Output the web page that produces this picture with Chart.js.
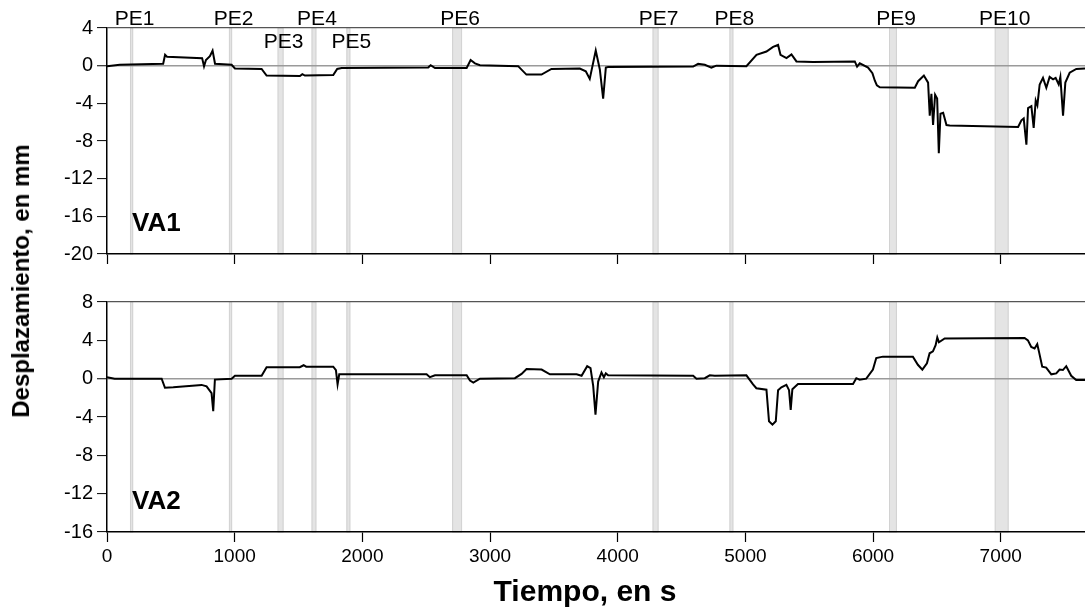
<!DOCTYPE html>
<html lang="es">
<head>
<meta charset="utf-8">
<title>Desplazamiento VA1 / VA2</title>
<script src="https://cdn.jsdelivr.net/npm/chart.js@4.4.1/dist/chart.umd.min.js"></script>
<style>
  body { margin: 0; background: #fff; }
  #wrap { position: relative; width: 1085px; height: 614px; overflow: hidden; font-family: Arial, "Liberation Sans", sans-serif; }
  #graficoVA1 { position: absolute; left: 0; top: 0; }
  #graficoVA2 { position: absolute; left: 0; top: 270px; }
  .tituloY { position: absolute; left: 21px; top: 281px; transform: translate(-50%, -50%) rotate(-90deg); font-weight: bold; font-size: 24px; white-space: nowrap; }
  .tituloX { position: absolute; left: 585px; top: 591px; transform: translate(-50%, -50%); font-weight: bold; font-size: 30px; white-space: nowrap; }
</style>
</head>
<body>
<div id="wrap">
  <canvas id="graficoVA1" width="1085" height="270"></canvas>
  <canvas id="graficoVA2" width="1085" height="344"></canvas>
  <div class="tituloY">Desplazamiento, en mm</div>
  <div class="tituloX">Tiempo, en s</div>
</div>
<script>
// Periodos de ensayo (franjas grises), en s
const peEtiquetas = ['PE1', 'PE2', 'PE3', 'PE4', 'PE5', 'PE6', 'PE7', 'PE8', 'PE9', 'PE10'];
const peInicio = [180, 955, 1336, 1602, 1875, 2703, 4273, 4875, 6125, 6953];
const peFin    = [205, 980, 1383, 1640, 1906, 2781, 4320, 4906, 6187, 7062];

// Marcas del eje de tiempo
const ticksTiempo = [0, 1000, 2000, 3000, 4000, 5000, 6000, 7000];
const tiempoMax = 7660;

// VA1
const tiempoVA1 = [0, 100, 440, 455, 470, 745, 760, 775, 806, 827, 846, 976, 1002, 1211, 1250, 1511, 1530, 1550, 1772, 1803, 1838,
  2516, 2535, 2569, 2817, 2848, 2882, 2921, 3220, 3285, 3403, 3481, 3703, 3750, 3781, 3828, 3860, 3886, 3907, 3925,
  4591, 4630, 4682, 4734, 4773, 5008, 5087, 5165, 5217, 5256, 5275, 5322, 5361, 5400, 5530, 5857, 5875, 5896, 5961,
  5995, 6014, 6030, 6053, 6327, 6353, 6398, 6431, 6444, 6457, 6470, 6486, 6502, 6515, 6528, 6549, 6575, 6600,
  7136, 7162, 7180, 7201, 7214, 7240, 7258, 7274, 7287, 7305, 7331, 7357, 7383, 7410, 7430, 7454, 7467, 7488, 7506,
  7540, 7592, 7660];
const despVA1 = [-0.05, 0.1, 0.2, 1.15, 0.95, 0.8, -0.07, 0.6, 1.0, 1.6, 0.2, 0.1, -0.3, -0.35, -1.05, -1.1, -0.9, -1.05, -1.0, -0.35, -0.25,
  -0.2, 0.05, -0.25, -0.25, 0.6, 0.25, 0.05, -0.05, -0.95, -0.95, -0.35, -0.3, -0.6, -1.4, 1.6, -0.4, -3.5, -0.2, -0.15,
  -0.1, 0.2, 0.1, -0.2, 0, -0.05, 1.15, 1.5, 2.0, 2.2, 1.15, 0.8, 1.2, 0.45, 0.4, 0.45, -0.1, 0.25, -0.2,
  -0.8, -1.6, -2.1, -2.3, -2.35, -1.65, -1.05, -1.8, -5.3, -3.0, -6.3, -3.1, -3.5, -9.3, -5.1, -5.0, -6.3, -6.35,
  -6.5, -5.8, -5.6, -8.4, -4.5, -4.3, -6.6, -3.7, -4.2, -2.0, -1.3, -2.35, -1.2, -1.45, -1.3, -2.0, -1.2, -5.3, -1.8,
  -0.75, -0.35, -0.3];

// VA2
const tiempoVA2 = [0, 60, 428, 454, 519, 741, 780, 819, 832, 845, 976, 1002, 1211, 1250, 1510, 1540, 1560, 1772, 1793, 1806, 1819,
  2503, 2529, 2569, 2817, 2843, 2869, 2921, 3195, 3247, 3286, 3404, 3469, 3678, 3717, 3761, 3787, 3808, 3826, 3847,
  3873, 3892, 3907, 3925, 4591, 4617, 4682, 4721, 4760, 5008, 5060, 5086, 5165, 5185, 5212, 5238, 5256, 5282, 5321,
  5342, 5355, 5368, 5412, 5843, 5869, 5895, 5947, 5999, 6025, 6077, 6312, 6351, 6386, 6422, 6443, 6469, 6490, 6503,
  6516, 6561, 7187, 7213, 7239, 7265, 7286, 7299, 7325, 7356, 7396, 7435, 7461, 7487, 7513, 7552, 7591, 7660];
const despVA2 = [0.15, 0, 0, -0.95, -0.9, -0.65, -0.8, -1.5, -3.4, -0.1, 0, 0.3, 0.3, 1.2, 1.2, 1.4, 1.25, 1.25, 0.9, -0.6, 0.45,
  0.45, 0.15, 0.35, 0.35, -0.2, -0.4, 0, 0.05, 0.5, 1.0, 0.95, 0.45, 0.45, 0.3, 1.3, 1.1, -0.75, -3.75, -0.3,
  0.65, 0.15, 0.55, 0.35, 0.3, 0.0, 0.05, 0.35, 0.3, 0.35, -0.6, -1.0, -1.15, -4.45, -4.8, -4.45, -1.2, -0.9, -0.65,
  -1.2, -3.25, -1.1, -0.55, -0.55, 0.05, -0.1, 0.0, 0.95, 2.15, 2.3, 2.3, 1.45, 0.95, 1.6, 2.65, 2.85, 3.5, 4.3,
  3.8, 4.2, 4.25, 4.0, 3.3, 3.15, 3.6, 2.85, 1.25, 1.15, 0.45, 0.55, 0.95, 0.9, 1.3, 0.3, -0.15, -0.15];

const fuente = 'Arial, "Liberation Sans", sans-serif';

// Franjas grises y rótulos
const franjas = {
  id: 'franjas',
  beforeDraw(chart) {
    const { ctx, chartArea: a, scales: { x } } = chart;
    ctx.save();
    for (let i = 0; i < peInicio.length; i++) {
      const x1 = x.getPixelForValue(peInicio[i]);
      const x2 = x.getPixelForValue(peFin[i]);
      ctx.fillStyle = '#e4e4e4';
      ctx.fillRect(x1, a.top, x2 - x1, a.bottom - a.top);
      ctx.strokeStyle = '#d2d2d2';
      ctx.lineWidth = 1;
      ctx.strokeRect(x1 + 0.5, a.top, x2 - x1 - 1, a.bottom - a.top);
    }
    ctx.restore();
  },
  afterDraw(chart, args, opts) {
    const { ctx, chartArea: a, scales: { x } } = chart;
    ctx.save();
    ctx.fillStyle = '#000';
    ctx.textBaseline = 'alphabetic';
    if (opts.pe) {
      ctx.font = '21px ' + fuente;
      ctx.textAlign = 'center';
      peEtiquetas.forEach((txt, i) => {
        const cx = x.getPixelForValue((peInicio[i] + peFin[i]) / 2) + 3;
        const abajo = txt === 'PE3' || txt === 'PE5';
        ctx.fillText(txt, cx, abajo ? a.top + 20 : a.top - 3);
      });
    }
    ctx.font = 'bold 26px ' + fuente;
    ctx.textAlign = 'left';
    ctx.fillText(opts.panel, a.left + 25, a.bottom - 23);
    ctx.restore();
  }
};

function ejeY(min, max) {
  return {
    min: min, max: max,
    afterFit(scale) { scale.width = 107; },
    ticks: { stepSize: 4, color: '#000', font: { family: fuente, size: 20 }, padding: 4 },
    grid: {
      color: c => c.tick.value === 0 ? '#9a9a9a' : (c.tick.value === max ? '#555' : 'rgba(0,0,0,0)'),
      lineWidth: c => c.tick.value === 0 ? 1.5 : 1.2,
      tickColor: '#000', tickLength: 10, tickWidth: 1
    },
    border: { display: true, color: '#000', width: 1.5 }
  };
}

function ejeX(conEtiquetas, alto) {
  return {
    type: 'linear', min: 0, max: tiempoMax,
    afterBuildTicks(scale) { scale.ticks = ticksTiempo.map(v => ({ value: v })); },
    afterFit(scale) { scale.height = alto; },
    ticks: {
      display: conEtiquetas, autoSkip: false, color: '#000',
      font: { family: fuente, size: 19 }, padding: 3, maxRotation: 0,
      callback: v => String(v)
    },
    grid: { drawOnChartArea: false, tickColor: '#000', tickLength: 10, tickWidth: 1.2 },
    border: { display: true, color: '#000', width: 1.5 }
  };
}

function serie(t, v) {
  return t.map((ti, i) => ({ x: ti, y: v[i] }));
}

function crearGrafico(id, t, v, panel, pe, yMin, yMax, padTop, altoX, conEtiquetas) {
  return new Chart(document.getElementById(id), {
    type: 'line',
    data: {
      datasets: [{
        data: serie(t, v),
        borderColor: '#000',
        borderWidth: 2,
        pointRadius: 0,
        tension: 0,
        fill: false
      }]
    },
    options: {
      responsive: false,
      animation: false,
      layout: { padding: { top: padTop, left: 0, right: 0, bottom: 0 } },
      plugins: { legend: { display: false }, tooltip: { enabled: false }, franjas: { panel: panel, pe: pe } },
      scales: { x: ejeX(conEtiquetas, altoX), y: ejeY(yMin, yMax) }
    },
    plugins: [franjas]
  });
}

crearGrafico('graficoVA1', tiempoVA1, despVA1, 'VA1', true, -20, 4, 28, 12, false);
crearGrafico('graficoVA2', tiempoVA2, despVA2, 'VA2', false, -16, 8, 32, 82, true);
</script>
</body>
</html>
